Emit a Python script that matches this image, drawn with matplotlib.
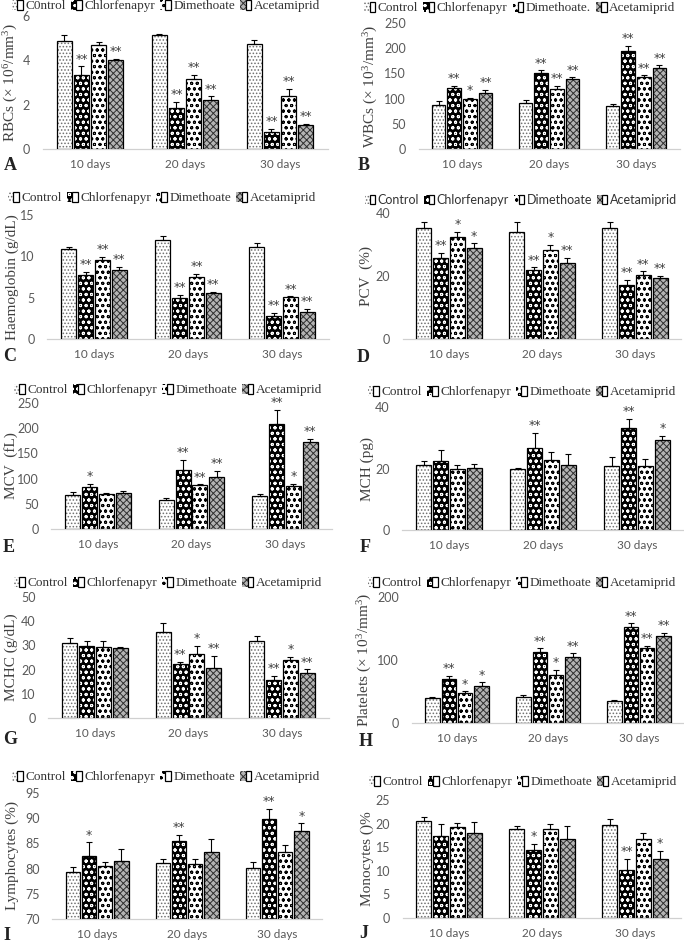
import matplotlib
matplotlib.use('Agg')
import matplotlib.pyplot as plt
import numpy as np
from matplotlib.legend_handler import HandlerTuple

plt.rcParams['mathtext.fontset'] = 'custom'
plt.rcParams['mathtext.rm'] = 'Liberation Serif'
plt.rcParams['mathtext.it'] = 'Liberation Serif:italic'
plt.rcParams['mathtext.default'] = 'rm'
plt.rcParams['hatch.linewidth'] = 0.7

W, H = 684, 943
fig = plt.figure(figsize=(W / 100, H / 100), dpi=100)

days = ['10 days', '20 days', '30 days']
series = ['Control', 'Chlorfenapyr', 'Dimethoate', 'Acetamiprid']

# ---- A: RBCs ----
rbc_mean = [[4.86, 5.13, 4.72], [3.36, 1.83, 0.78], [4.68, 3.15, 2.40], [4.00, 2.20, 1.08]]
rbc_err = [[0.27, 0.07, 0.21], [0.37, 0.30, 0.13], [0.13, 0.18, 0.30], [0.08, 0.18, 0.07]]
rbc_sig = [['', '', ''], ['**', '**', '**'], ['', '**', '**'], ['**', '**', '**']]
# ---- B: WBCs ----
wbc_mean = [[88, 92, 85], [121, 150, 195], [99, 120, 142], [112, 138, 160]]
wbc_err = [[7, 5, 5], [4, 6, 9], [2, 5, 4], [5, 4, 6]]
wbc_sig = [['', '', ''], ['**', '**', '**'], ['*', '**', '**'], ['**', '**', '**']]
# ---- C: Haemoglobin ----
hb_mean = [[10.9, 12.0, 11.1], [7.7, 4.95, 2.75], [9.55, 7.45, 5.05], [8.35, 5.6, 3.25]]
hb_err = [[0.25, 0.4, 0.5], [0.4, 0.36, 0.4], [0.4, 0.4, 0.12], [0.4, 0.12, 0.4]]
hb_sig = [['', '', ''], ['**', '**', '**'], ['**', '**', '**'], ['**', '**', '**']]
# ---- D: PCV ----
pcv_mean = [[35.2, 34.1, 35.2], [25.7, 22.0, 17.2], [32.3, 28.3, 20.3], [28.8, 24.1, 19.3]]
pcv_err = [[2.1, 2.9, 2.1], [1.6, 0.7, 1.6], [1.8, 1.6, 1.2], [1.6, 1.6, 0.8]]
pcv_sig = [['', '', ''], ['**', '**', '**'], ['*', '*', '**'], ['*', '**', '**']]
# ---- E: MCV ----
mcv_mean = [[67.6, 57, 65.6], [83, 117, 208], [69, 87.5, 85.5], [71, 104, 172]]
mcv_err = [[6.5, 4, 4], [6.5, 20, 28], [1.5, 1, 4], [5, 11, 6.5]]
mcv_sig = [['', '', ''], ['*', '**', '**'], ['', '**', '*'], ['', '**', '**']]
# ---- F: MCH ----
mch_mean = [[21.1, 19.9, 20.8], [22.4, 26.7, 33.2], [19.8, 22.7, 20.8], [20.2, 21.3, 29.2]]
mch_err = [[1.3, 0.2, 3.0], [3.5, 5.0, 3.0], [1.4, 2.7, 2.2], [1.4, 3.3, 1.4]]
mch_sig = [['', '', ''], ['', '**', '**'], ['', '', ''], ['', '', '*']]
# ---- G: MCHC ----
mchc_mean = [[30.9, 35.7, 32.0], [29.8, 22.3, 15.6], [29.2, 26.3, 24.0], [28.8, 20.5, 18.7]]
mchc_err = [[2.3, 3.5, 1.7], [2.1, 1.0, 1.7], [2.7, 3.5, 1.3], [0.7, 5.3, 1.4]]
mchc_sig = [['', '', ''], ['', '**', '**'], ['', '*', '*'], ['', '**', '**']]
# ---- H: Platelets ----
plt_mean = [[39.5, 41, 35.3], [70.5, 113, 151.6], [47.4, 76.8, 119], [58, 104, 138]]
plt_err = [[2.5, 2.7, 1.5], [4.5, 5.3, 6.4], [3, 7.4, 3], [6.7, 6.5, 5.3]]
plt_sig = [['', '', ''], ['**', '**', '**'], ['*', '*', '**'], ['*', '**', '**']]
# ---- I: Lymphocytes ----
lym_mean = [[79.3, 81.1, 80.2], [82.5, 85.5, 89.8], [80.5, 80.9, 83.2], [81.6, 83.2, 87.4]]
lym_err = [[1.1, 0.8, 1.2], [2.7, 1.2, 2.0], [0.9, 1.1, 1.5], [2.3, 2.6, 1.6]]
lym_sig = [['', '', ''], ['*', '**', '**'], ['', '', ''], ['', '', '*']]
# ---- J: Monocytes ----
mon_mean = [[20.6, 18.8, 19.7], [17.4, 14.4, 10.2], [19.2, 18.8, 16.7], [18.1, 16.7, 12.5]]
mon_err = [[0.9, 0.7, 1.2], [2.5, 1.3, 2.3], [0.9, 1.1, 1.4], [2.3, 2.7, 1.8]]
mon_sig = [['', '', ''], ['', '*', '**'], ['', '', ''], ['', '', '*']]

legend_A = ['C0ntrol', 'Chlorfenapyr', 'Dimethoate', 'Acetamiprid']
legend_B = ['Control', 'Chlorfenapyr', 'Dimethoate.', 'Acetamiprid']

# series styles: face, hatch colour, hatch
styles = [
    ('white', '#707070', '.....'),
    ('black', 'white', 'ooo'),
    ('white', 'black', 'ooo'),
    ('#b4b4b4', '#303030', 'xxxxx'),
]

SERIF = 'Liberation Serif'
SANS = 'Lato'
GRAY = '#595959'

panels = [
    dict(letter='A', mean=rbc_mean, err=rbc_err, sig=rbc_sig, ylim=(0, 6), yticks=[0, 2, 4, 6],
         ylabel='RBCs (× 10$^{6}$/mm$^{3}$)', labels=legend_A, c0=90, c2=280, top=16, bottom=149,
         leg=(166, 6), ylx=11, let=(4, 166), legfont=SERIF),
    dict(letter='B', mean=wbc_mean, err=wbc_err, sig=wbc_sig, ylim=(0, 250), yticks=[0, 50, 100, 150, 200, 250],
         ylabel='WBCs (× 10$^{3}$/mm$^{3}$)', labels=legend_B, c0=462, c2=636, top=23, bottom=149,
         leg=(520, 8), ylx=371, let=(358, 166), legfont=SERIF),
    dict(letter='C', mean=hb_mean, err=hb_err, sig=hb_sig, ylim=(0, 15), yticks=[0, 5, 10, 15],
         ylabel='Haemoglobin (g/dL)', labels=series, c0=94, c2=282, top=215, bottom=339,
         leg=(162, 198), ylx=12, let=(3, 357), legfont=SERIF),
    dict(letter='D', mean=pcv_mean, err=pcv_err, sig=pcv_sig, ylim=(0, 40), yticks=[0, 20, 40],
         ylabel='PCV  (%)', labels=series, c0=449, c2=635, top=213, bottom=339,
         leg=(521, 200), ylx=366, let=(357, 358), legfont=SANS),
    dict(letter='E', mean=mcv_mean, err=mcv_err, sig=mcv_sig, ylim=(0, 250), yticks=[0, 50, 100, 150, 200, 250],
         ylabel='MCV  (fL)', labels=series, c0=98, c2=285, top=403, bottom=529,
         leg=(168, 390), ylx=11, let=(3, 547), legfont=SERIF),
    dict(letter='F', mean=mch_mean, err=mch_err, sig=mch_sig, ylim=(0, 40), yticks=[0, 20, 40],
         ylabel='MCH (pg)', labels=series, c0=449, c2=637, top=407, bottom=530,
         leg=(522, 392), ylx=367, let=(360, 548), legfont=SERIF),
    dict(letter='G', mean=mchc_mean, err=mchc_err, sig=mchc_sig, ylim=(0, 50), yticks=[0, 10, 20, 30, 40, 50],
         ylabel='MCHC (g/dL)', labels=series, c0=95, c2=282, top=597, bottom=718,
         leg=(168, 583), ylx=11, let=(3, 740), legfont=SERIF),
    dict(letter='H', mean=plt_mean, err=plt_err, sig=plt_sig, ylim=(0, 200), yticks=[0, 100, 200],
         ylabel='Platelets (× 10$^{3}$/mm$^{3}$)', labels=series, c0=457, c2=639, top=597, bottom=723,
         leg=(522, 583), ylx=365, let=(359, 742), legfont=SERIF),
    dict(letter='I', mean=lym_mean, err=lym_err, sig=lym_sig, ylim=(70, 95), yticks=[70, 75, 80, 85, 90, 95],
         ylabel='Lymphocytes (%)', labels=series, c0=97, c2=277, top=793, bottom=919,
         leg=(166, 777), ylx=12, let=(3, 936), legfont=SERIF),
    dict(letter='J', mean=mon_mean, err=mon_err, sig=mon_sig, ylim=(0, 25), yticks=[0, 5, 10, 15, 20, 25],
         ylabel='Monocytes ()%', labels=series, c0=449, c2=635, top=800, bottom=918,
         leg=(523, 782), ylx=367, let=(359, 934), legfont=SERIF),
]

bw = 0.16
pitch = 0.18
x = np.arange(len(days))

for p in panels:
    gp = (p['c2'] - p['c0']) / 2
    left = p['c0'] - gp / 2
    right = p['c2'] + gp / 2
    ax = fig.add_axes([left / W, 1 - p['bottom'] / H, (right - left) / W, (p['bottom'] - p['top']) / H])
    handles = []
    for i in range(4):
        face, hc, hatch = styles[i]
        xs = x + (i - 1.5) * pitch
        vals = np.array(p['mean'][i], dtype=float)
        errs = np.array(p['err'][i], dtype=float)
        hb = ax.bar(xs, vals, bw, color=face, edgecolor=hc, hatch=hatch, linewidth=0, zorder=2)
        ob = ax.bar(xs, vals, bw, fill=False, edgecolor='black', linewidth=0.9, zorder=3)
        ax.errorbar(xs, vals, yerr=[np.zeros_like(errs), errs], fmt='none', ecolor='black',
                    elinewidth=0.8, capsize=2.5, capthick=0.8, zorder=4)
        for xx, v, e, s in zip(xs, vals, errs, p['sig'][i]):
            if s:
                ax.annotate(s, (xx, v + e), xytext=(0, 0.5), textcoords='offset points',
                            ha='center', va='bottom', fontsize=9, family='DejaVu Sans', color='#404040')
        handles.append((hb.patches[0], ob.patches[0]))
    ax.set_xlim(-0.5, 2.5)
    ax.set_ylim(*p['ylim'])
    ax.set_yticks(p['yticks'])
    ax.set_xticks(x)
    ax.set_xticklabels(days, family=SANS, fontsize=8.5, color=GRAY)
    ax.set_yticklabels([str(t) for t in p['yticks']], family=SANS, fontsize=9, color=GRAY)
    ax.tick_params(axis='both', length=0)
    ax.tick_params(axis='x', pad=7.5)
    ax.tick_params(axis='y', pad=9)
    for s in ['top', 'left', 'right']:
        ax.spines[s].set_visible(False)
    ax.spines['bottom'].set_color('#d0d0d0')
    ax.spines['bottom'].set_linewidth(0.9)
    ax.patch.set_alpha(0)

    fig.text(p['ylx'] / W, 1 - (p['top'] + p['bottom']) / 2 / H, p['ylabel'], rotation=90,
             ha='center', va='center', family=SERIF, fontsize=11, color='#404040')
    fig.text(p['let'][0] / W, 1 - p['let'][1] / H, p['letter'], ha='left', va='center',
             family=SERIF, fontweight='bold', fontsize=13, color='#222222')
    fig.legend(handles, p['labels'], loc='center', bbox_to_anchor=(p['leg'][0] / W, 1 - p['leg'][1] / H),
               ncol=4, frameon=False, handlelength=0.8, handleheight=0.8, handletextpad=0.2,
               columnspacing=0.4, borderpad=0, borderaxespad=0,
               prop={'family': p['legfont'], 'size': 9.5 if p['legfont'] == SERIF else 9},
               handler_map={tuple: HandlerTuple(ndivide=None)}, labelcolor='#333333')

fig.savefig('out.png', dpi=100, facecolor='white')
